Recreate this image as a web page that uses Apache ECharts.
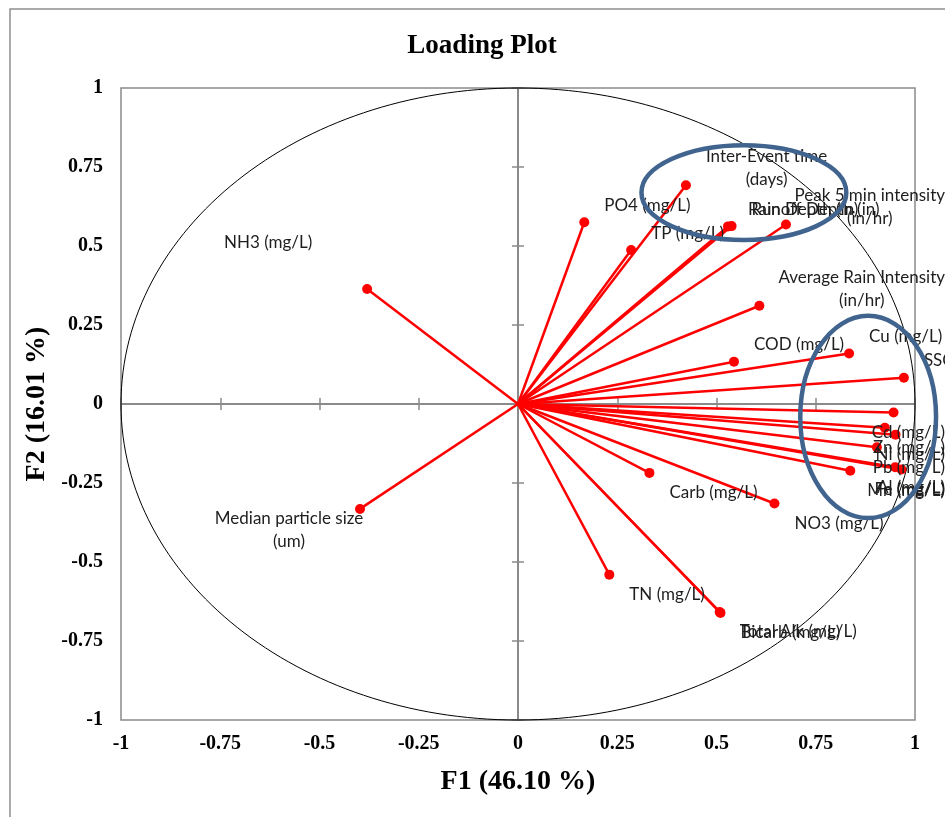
<!DOCTYPE html>
<html>
<head>
<meta charset="utf-8">
<script src="https://cdn.jsdelivr.net/npm/echarts@6/dist/echarts.min.js"></script>
<style>
  html, body { margin: 0; padding: 0; background: #ffffff; }
  #chart { width: 945px; height: 817px; }
</style>
</head>
<body>
<div id="chart"></div>
<script>
// Variable names (as labelled on the correlation circle)
const variables = [
  'NH3 (mg/L)',
  'Median particle size\n(um)',
  'PO4 (mg/L)',
  'TP (mg/L)',
  'Inter-Event time\n(days)',
  'Rain Depth (in)',
  'Runoff Depth (in)',
  'Peak 5 min intensity\n(in/hr)',
  'Average Rain Intensity\n(in/hr)',
  'COD (mg/L)',
  'Cu (mg/L)',
  'SSC (mg/L)',
  'Cd (mg/L)',
  'Zn (mg/L)',
  'Ni (mg/L)',
  'Pb (mg/L)',
  'Mn (mg/L)',
  'Al (mg/L)',
  'Fe (mg/L)',
  'Carb (mg/L)',
  'NO3 (mg/L)',
  'TN (mg/L)',
  'Bicarb (mg/L)',
  'Total Alk (mg/L)'
];

// Loadings on the first factor (F1)
const f1Loadings = [
  -0.380, -0.398, 0.167, 0.285, 0.423, 0.529, 0.538, 0.675, 0.608, 0.544,
  0.834, 0.972, 0.946, 0.924, 0.951, 0.904, 0.837, 0.950, 0.966, 0.331,
  0.646, 0.230, 0.510, 0.508
];

// Loadings on the second factor (F2)
const f2Loadings = [
  0.364, -0.332, 0.575, 0.487, 0.692, 0.562, 0.563, 0.568, 0.311, 0.134,
  0.160, 0.083, -0.027, -0.075, -0.097, -0.137, -0.211, -0.200, -0.207, -0.218,
  -0.315, -0.540, -0.661, -0.658
];

// Axis tick values shared by both factors
const axisTicks = [-1, -0.75, -0.5, -0.25, 0, 0.25, 0.5, 0.75, 1];

// Highlighted variable groups: [centre F1, centre F2, half-width, half-height]
const groupRings = [
  [0.569, 0.669, 0.258, 0.150],
  [0.882, -0.041, 0.171, 0.320]
];

// Label placement tweaks (offset of label centre from its point, px)
const labelShift = {
  'NH3 (mg/L)': [-99, -46],
  'Median particle size\n(um)': [-71, 21]
};
const unclampedLabels = ['SSC (mg/L)'];

const CHART_W = 945;
const tickMin = axisTicks[0];
const tickMax = axisTicks[axisTicks.length - 1];
const tickStep = axisTicks[1] - axisTicks[0];

const points = variables.map((name, i) => ({ name: name, value: [f1Loadings[i], f2Loadings[i]] }));

const gray = '#8a8a8a';
const tickFont = { fontFamily: 'Liberation Serif', fontWeight: 'bold', fontSize: 20, color: '#000' };
const titleFont = { fontFamily: 'Liberation Serif', fontWeight: 'bold', fontSize: 28, color: '#000' };

function baseAxis(extra) {
  return Object.assign({
    type: 'value',
    min: tickMin,
    max: tickMax,
    interval: tickStep,
    splitLine: { show: false }
  }, extra);
}

// Three axes per dimension: one carries the labels on the frame,
// two draw the cross-hair line through zero with ticks on both sides.
const xAxes = [
  baseAxis({
    position: 'bottom',
    axisLine: { show: false, onZero: false },
    axisTick: { show: false },
    axisLabel: Object.assign({ margin: 14 }, tickFont),
    name: 'F1 (46.10 %)',
    nameLocation: 'middle',
    nameGap: 48,
    nameTextStyle: titleFont
  }),
  baseAxis({
    position: 'bottom',
    axisLine: { show: true, onZero: true, onZeroAxisIndex: 0, lineStyle: { color: gray, width: 2 } },
    axisTick: { show: true, inside: false, length: 6, lineStyle: { color: gray, width: 1.5 } },
    axisLabel: { show: false }
  }),
  baseAxis({
    position: 'bottom',
    axisLine: { show: false, onZero: true, onZeroAxisIndex: 0 },
    axisTick: { show: true, inside: true, length: 6, lineStyle: { color: gray, width: 1.5 } },
    axisLabel: { show: false }
  })
];

const yAxes = [
  baseAxis({
    position: 'left',
    axisLine: { show: false, onZero: false },
    axisTick: { show: false },
    axisLabel: Object.assign({ margin: 18 }, tickFont),
    name: 'F2 (16.01 %)',
    nameLocation: 'middle',
    nameGap: 70,
    nameRotate: 90,
    nameTextStyle: titleFont
  }),
  baseAxis({
    position: 'left',
    axisLine: { show: true, onZero: true, onZeroAxisIndex: 0, lineStyle: { color: gray, width: 2 } },
    axisTick: { show: true, inside: false, length: 6, lineStyle: { color: gray, width: 1.5 } },
    axisLabel: { show: false }
  }),
  baseAxis({
    position: 'left',
    axisLine: { show: false, onZero: true, onZeroAxisIndex: 0 },
    axisTick: { show: true, inside: true, length: 6, lineStyle: { color: gray, width: 1.5 } },
    axisLabel: { show: false }
  })
];

const chart = echarts.init(document.getElementById('chart'), null, { renderer: 'canvas' });

chart.setOption({
  backgroundColor: '#ffffff',
  animation: false,
  graphic: [
    {
      type: 'rect',
      z: -10,
      silent: true,
      shape: { x: 10, y: 9, width: 1000, height: 900 },
      style: { fill: 'none', stroke: '#8e8e8e', lineWidth: 1.5 }
    },
    {
      type: 'text',
      x: 482,
      y: 46,
      silent: true,
      style: {
        text: 'Loading Plot',
        align: 'center',
        verticalAlign: 'middle',
        font: 'bold 27px "Liberation Serif"',
        fill: '#000'
      }
    }
  ],
  grid: {
    left: 121,
    top: 88,
    width: 794,
    height: 632,
    show: true,
    borderColor: gray,
    borderWidth: 1.5,
    backgroundColor: 'transparent',
    containLabel: false,
    outerBoundsMode: 'none'
  },
  xAxis: xAxes,
  yAxis: yAxes,
  series: [
    {
      // correlation circle of radius 1
      type: 'custom',
      z: 1,
      silent: true,
      data: [[0, 0]],
      renderItem: function (params, api) {
        const c = api.coord([0, 0]);
        const s = api.size([1, 1]);
        return {
          type: 'ellipse',
          shape: { cx: c[0], cy: c[1], rx: s[0], ry: s[1] },
          style: { fill: 'none', stroke: '#000000', lineWidth: 1 }
        };
      }
    },
    {
      // loading vectors from the origin
      type: 'custom',
      z: 2,
      silent: true,
      data: points.map(p => p.value),
      renderItem: function (params, api) {
        const o = api.coord([0, 0]);
        const e = api.coord([api.value(0), api.value(1)]);
        return {
          type: 'line',
          shape: { x1: o[0], y1: o[1], x2: e[0], y2: e[1] },
          style: { stroke: '#ff0000', lineWidth: 2.5 }
        };
      }
    },
    {
      type: 'scatter',
      z: 3,
      symbol: 'circle',
      symbolSize: 10,
      itemStyle: { color: '#ff0000', opacity: 1 },
      data: points,
      label: {
        show: true,
        formatter: p => p.name,
        fontFamily: 'Lato',
        fontSize: 17,
        lineHeight: 23,
        color: '#1e1e1e',
        align: 'center',
        verticalAlign: 'middle'
      },
      labelLayout: function (params) {
        const item = points[params.dataIndex];
        const r = params.rect;
        const cx = r.x + r.width / 2;
        const cy = r.y + r.height / 2;
        const w = params.labelRect.width;
        const shift = labelShift[item.name];
        if (shift) {
          return { x: cx + shift[0], y: cy + shift[1], align: 'center', verticalAlign: 'middle' };
        }
        let left = cx + 20;
        if (unclampedLabels.indexOf(item.name) < 0 && left + w > CHART_W) {
          left = CHART_W - w;
        }
        const dy = item.value[1] >= 0 ? -17 : 20;
        return { x: left + w / 2, y: cy + dy, align: 'center', verticalAlign: 'middle' };
      }
    },
    {
      // rings around the highlighted variable groups
      type: 'custom',
      z: 10,
      silent: true,
      data: groupRings,
      renderItem: function (params, api) {
        const c = api.coord([api.value(0), api.value(1)]);
        const s = api.size([api.value(2), api.value(3)]);
        return {
          type: 'ellipse',
          shape: { cx: c[0], cy: c[1], rx: s[0], ry: s[1] },
          style: { fill: 'none', stroke: '#41648f', lineWidth: 4.5 }
        };
      }
    }
  ]
});
</script>
</body>
</html>
